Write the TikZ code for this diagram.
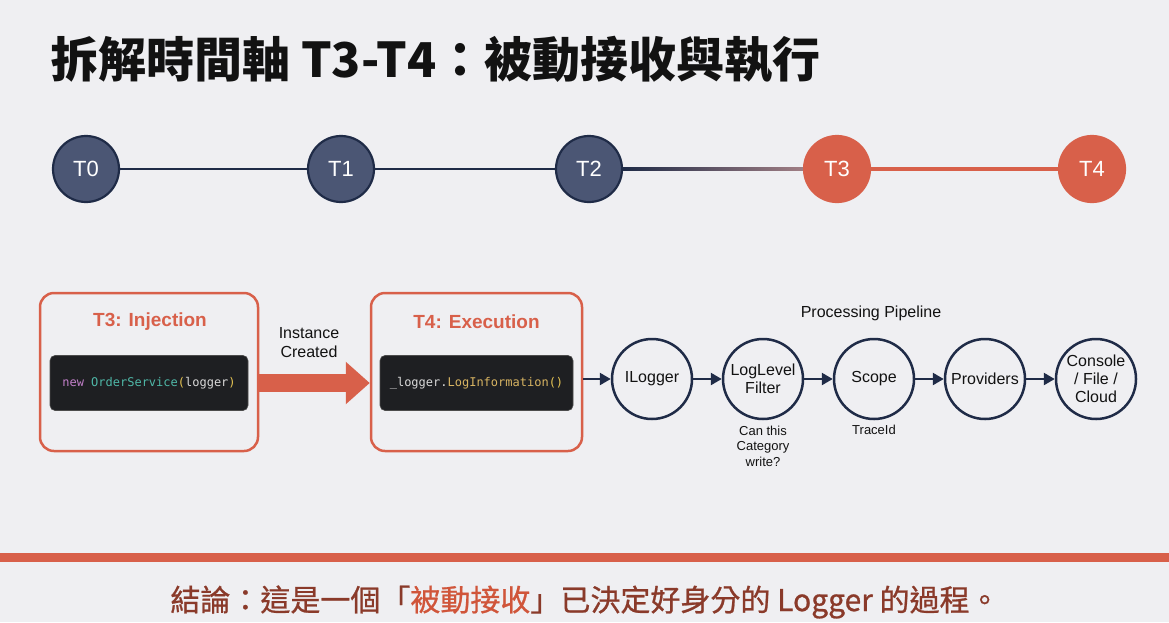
\documentclass[tikz,border=0pt]{standalone}
\usepackage{fontspec}
\setmainfont{Liberation Sans}
\newfontfamily\cjk{Noto Sans CJK TC}
\newfontfamily\cjkm{Noto Sans CJK TC}[FakeBold=0.8]
\newfontfamily\mono{DejaVu Sans Mono}
\usetikzlibrary{arrows.meta,calc}
\definecolor{bg}{HTML}{EFEFF2}
\definecolor{navyfill}{HTML}{4B5674}
\definecolor{navyline}{HTML}{1F2B47}
\definecolor{orng}{HTML}{D8604A}
\definecolor{mauve}{HTML}{A07E84}
\definecolor{codebg}{HTML}{1E1F22}
\definecolor{kw}{HTML}{C27FC9}
\definecolor{cls}{HTML}{4FB8A8}
\definecolor{par}{HTML}{E6C453}
\definecolor{cg}{HTML}{D9D9D9}
\definecolor{meth}{HTML}{D8B462}
\definecolor{concl}{HTML}{8A3A2A}
\definecolor{hl}{HTML}{D0553A}
\definecolor{ink}{HTML}{121212}
\begin{document}
\begin{tikzpicture}[x=1pt,y=-1pt,
  tnode/.style={circle, minimum size=66pt, inner sep=0pt, line width=2.2pt, text=white, font=\fontsize{22}{24}\selectfont},
  past/.style={tnode, fill=navyfill, draw=navyline},
  now/.style={tnode, fill=orng, draw=orng},
  bigbox/.style={draw=orng, line width=2.5pt, rounded corners=14pt, minimum height=158pt, inner sep=0pt},
  boxtitle/.style={text=orng, font=\fontsize{19}{22}\selectfont\bfseries},
  code/.style={fill=codebg, draw=black!70, line width=0.6pt, rounded corners=5pt, minimum height=55pt, inner sep=0pt, font=\mono\fontsize{12}{14}\selectfont},
  pnode/.style={circle, draw=navyline, line width=2.5pt, minimum size=80pt, inner sep=0pt, align=center, text=ink, font=\fontsize{16}{18}\selectfont},
  parrow/.style={draw=navyline, line width=2.5pt, -{Triangle[length=11pt,width=12pt]}},
  lbl/.style={text=ink, align=center, font=\fontsize{16}{19}\selectfont},
  small/.style={text=ink, align=center, font=\fontsize{13}{15.5}\selectfont}
]
\fill[bg] (0,0) rectangle (1169,622);
\useasboundingbox (0,0) rectangle (1169,622);

% title
\node[anchor=west, inner sep=0pt, text=ink, font=\cjk\bfseries\fontsize{48}{52}\selectfont] (title) at (50,60) {拆解時間軸 T3-T4：被動接收與執行};

% timeline
\node[past] (t0) at (86,169) {T0};
\node[past] (t1) at (341,169) {T1};
\node[past] (t2) at (589,169) {T2};
\node[now] (t3) at (837,169) {T3};
\node[now] (t4) at (1092,169) {T4};
\draw[navyline, line width=2.2pt] (t0) -- (t1);
\draw[navyline, line width=2.2pt] (t1) -- (t2);
\shade[left color=navyline, right color=mauve] ($(t2.east)+(0,-1.2)$) rectangle ($(t3.west)+(0,1.2)$);
\draw[orng, line width=4pt] (t3) -- (t4);

% boxes
\node[bigbox, minimum width=218pt] (b3) at (149,372) {};
\node[bigbox, minimum width=211pt] (b4) at (476.5,372) {};
\node[boxtitle] (b3t) at (150,322) {T3: Injection};
\node[boxtitle] (b4t) at (476.5,322) {T4: Execution};
\node[code, minimum width=198pt] (c3) at (149,383) {{\color{kw}new} {\color{cls}OrderService}{\color{par}(}{\color{cg}logger}{\color{par})}};
\node[code, minimum width=193pt] (c4) at (476.5,383) {{\color{cg}\_logger.}{\color{meth}LogInformation}{\color{par}()}};

% big arrow
\draw[orng, line width=18pt, -{Triangle[length=24pt,width=41pt]}] (c3 -| b3.east) -- (c4 -| b4.west);
\node[lbl] (ic) at (309,343) {Instance\\Created};

% pipeline
\node[lbl] (pp) at (871,313) {Processing Pipeline};
\node[pnode] (p1) at (652,379) {ILogger};
\node[pnode] (p2) at (763,379) {LogLevel\\Filter};
\node[pnode] (p3) at (874,379) {Scope};
\node[pnode] (p4) at (985,379) {Providers};
\node[pnode] (p5) at (1096,379) {Console\\/ File /\\Cloud};
\draw[parrow] (b4.east |- p1) -- (p1.west);
\draw[parrow] (p1) -- (p2);
\draw[parrow] (p2) -- (p3);
\draw[parrow] (p3) -- (p4);
\draw[parrow] (p4) -- (p5);
\node[small] (n2) at (763,446) {Can this\\Category\\write?};
\node[small] (n3) at (874,430) {TraceId};

% bottom
\fill[orng] (0,553) rectangle (1169,562);
\node[inner sep=0pt, text=concl, font=\cjkm\fontsize{30}{34}\selectfont] (concl) at (585,602) {結論：這是一個「{\color{hl}被動接收}」已決定好身分的 Logger 的過程。};
\end{tikzpicture}
\end{document}
